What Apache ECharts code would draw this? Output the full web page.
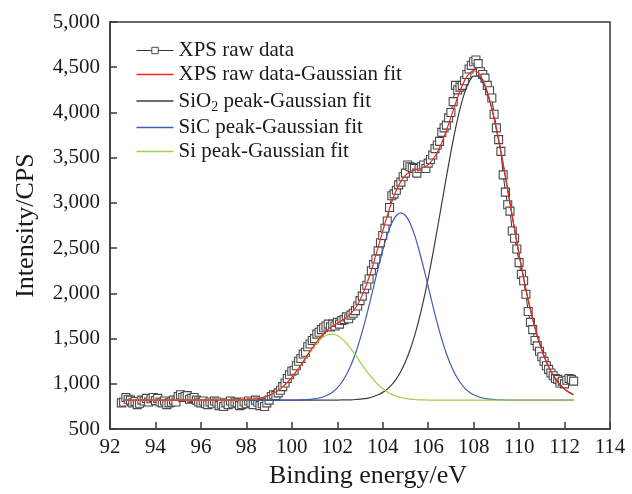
<!DOCTYPE html>
<html>
<head>
<meta charset="utf-8">
<script src="https://cdn.jsdelivr.net/npm/echarts@6/dist/echarts.min.js"></script>
<style>
html,body{margin:0;padding:0;background:#fff;}
#chart{width:632px;height:494px;}
</style>
</head>
<body>
<div id="chart"></div>
<script>
// ---- data ----
const xTicks = [92, 94, 96, 98, 100, 102, 104, 106, 108, 110, 112, 114];
const yTicks = [500, 1000, 1500, 2000, 2500, 3000, 3500, 4000, 4500, 5000];

const seriesNames = [
  'XPS raw data',
  'XPS raw data-Gaussian fit',
  'SiO2 peak-Gaussian fit',
  'SiC peak-Gaussian fit',
  'Si peak-Gaussian fit'
];

// raw XPS data: binding energy (eV)
const rawEnergy = [
  92.5,92.6,92.7,92.8,92.9,93.0,93.1,93.2,93.3,93.4,
  93.5,93.6,93.7,93.8,93.9,94.0,94.1,94.2,94.3,94.4,
  94.5,94.6,94.7,94.8,94.9,95.0,95.1,95.2,95.3,95.4,
  95.5,95.6,95.7,95.8,95.9,96.0,96.1,96.2,96.3,96.4,
  96.5,96.6,96.7,96.8,96.9,97.0,97.1,97.2,97.3,97.4,
  97.5,97.6,97.7,97.8,97.9,98.0,98.1,98.2,98.3,98.4,
  98.5,98.6,98.7,98.8,98.9,99.0,99.1,99.2,99.3,99.4,
  99.5,99.6,99.7,99.8,99.9,100.0,100.1,100.2,100.3,100.4,
  100.5,100.6,100.7,100.8,100.9,101.0,101.1,101.2,101.3,101.4,
  101.5,101.6,101.7,101.8,101.9,102.0,102.1,102.2,102.3,102.4,
  102.5,102.6,102.7,102.8,102.9,103.0,103.1,103.2,103.3,103.4,
  103.5,103.6,103.7,103.8,103.9,104.0,104.1,104.2,104.3,104.4,
  104.5,104.6,104.7,104.8,104.9,105.0,105.1,105.2,105.3,105.4,
  105.5,105.6,105.7,105.8,105.9,106.0,106.1,106.2,106.3,106.4,
  106.5,106.6,106.7,106.8,106.9,107.0,107.1,107.2,107.3,107.4,
  107.5,107.6,107.7,107.8,107.9,108.0,108.1,108.2,108.3,108.4,
  108.5,108.6,108.7,108.8,108.9,109.0,109.1,109.2,109.3,109.4,
  109.5,109.6,109.7,109.8,109.9,110.0,110.1,110.2,110.3,110.4,
  110.5,110.6,110.7,110.8,110.9,111.0,111.1,111.2,111.3,111.4,
  111.5,111.6,111.7,111.8,111.9,112.0,112.1,112.2,112.3,112.4
];
// raw XPS data: intensity (CPS)
const rawIntensity = [
  790,800,850,830,820,790,805,770,785,820,
  810,840,800,835,850,815,840,800,790,810,
  770,790,800,820,800,860,880,850,860,870,
  830,840,850,820,800,790,810,780,770,800,
  780,810,800,760,775,750,790,770,810,780,
  800,790,760,770,800,780,810,790,770,820,
  800,760,780,750,790,820,860,880,870,900,
  930,970,1010,1060,1100,1140,1150,1200,1250,1280,
  1330,1350,1410,1440,1480,1500,1550,1570,1600,1620,
  1640,1660,1630,1660,1640,1680,1660,1700,1710,1740,
  1720,1760,1780,1810,1860,1920,1970,2050,2090,2160,
  2250,2320,2380,2470,2560,2640,2720,2800,2950,3080,
  3100,3140,3200,3230,3290,3330,3420,3400,3390,3380,
  3330,3380,3400,3420,3380,3440,3480,3530,3600,3640,
  3680,3780,3830,3860,3940,4000,4120,4300,4250,4280,
  4300,4350,4420,4480,4520,4560,4580,4540,4450,4420,
  4380,4300,4240,4160,3980,3830,3700,3570,3310,3120,
  2980,2910,2690,2610,2490,2340,2210,2140,1990,1800,
  1680,1600,1480,1420,1360,1300,1250,1200,1160,1120,
  1090,1060,1050,1010,1030,1000,1040,1060,1050,1030
];

// fitted curves: binding energy (eV)
const fitEnergy = [
  92.6,92.8,93.0,93.2,93.4,93.6,93.8,94.0,94.2,94.4,
  94.6,94.8,95.0,95.2,95.4,95.6,95.8,96.0,96.2,96.4,
  96.6,96.8,97.0,97.2,97.4,97.6,97.8,98.0,98.2,98.4,
  98.6,98.8,99.0,99.2,99.4,99.6,99.8,100.0,100.2,100.4,
  100.6,100.8,101.0,101.2,101.4,101.6,101.8,102.0,102.2,102.4,
  102.6,102.8,103.0,103.2,103.4,103.6,103.8,104.0,104.2,104.4,
  104.6,104.8,105.0,105.2,105.4,105.6,105.8,106.0,106.2,106.4,
  106.6,106.8,107.0,107.2,107.4,107.6,107.8,108.0,108.2,108.4,
  108.6,108.8,109.0,109.2,109.4,109.6,109.8,110.0,110.2,110.4,
  110.6,110.8,111.0,111.2,111.4,111.6,111.8,112.0,112.2,112.4
];
const fitTotal = [
  820,820,820,820,820,820,820,820,820,820,
  820,820,820,820,820,820,820,820,820,820,
  820,820,820,820,821,822,823,826,829,835,
  843,856,873,896,927,967,1015,1073,1138,1211,
  1286,1362,1435,1501,1557,1603,1640,1671,1700,1733,
  1778,1841,1927,2040,2178,2338,2512,2689,2860,3013,
  3141,3238,3304,3344,3364,3376,3394,3423,3478,3560,
  3669,3802,3949,4099,4237,4352,4430,4461,4439,4362,
  4230,4047,3824,3566,3287,2998,2709,2429,2167,1928,
  1715,1530,1374,1244,1139,1056,991,942,906,879
];
const fitSiO2 = [
  820,820,820,820,820,820,820,820,820,820,
  820,820,820,820,820,820,820,820,820,820,
  820,820,820,820,820,820,820,820,820,820,
  820,820,820,820,820,820,820,820,820,820,
  820,820,820,820,820,820,820,821,822,823,
  824,827,831,837,846,860,879,906,942,991,
  1056,1139,1244,1374,1530,1715,1928,2167,2429,2709,
  2997,3286,3563,3819,4039,4216,4339,4402,4402,4339,
  4216,4039,3819,3563,3286,2997,2709,2429,2167,1928,
  1715,1530,1374,1244,1139,1056,991,942,906,879
];
const fitSiC = [
  820,820,820,820,820,820,820,820,820,820,
  820,820,820,820,820,820,820,820,820,820,
  820,820,820,820,820,820,820,820,820,820,
  820,820,820,820,820,820,820,821,821,823,
  825,828,834,844,857,879,911,956,1018,1100,
  1206,1336,1492,1671,1868,2075,2283,2477,2647,2778,
  2861,2890,2861,2778,2647,2477,2283,2075,1868,1671,
  1492,1336,1206,1100,1018,956,911,879,857,844,
  834,828,825,823,821,821,820,820,820,820,
  820,820,820,820,820,820,820,820,820,820
];
const fitSi = [
  820,820,820,820,820,820,820,820,820,820,
  820,820,820,820,820,820,820,820,820,820,
  820,820,820,820,821,822,823,826,829,835,
  843,856,873,896,927,967,1015,1072,1137,1208,
  1281,1354,1421,1477,1520,1544,1549,1534,1500,1450,
  1388,1318,1244,1172,1104,1043,990,946,911,884,
  864,849,839,832,827,824,823,821,821,820,
  820,820,820,820,820,820,820,820,820,820,
  820,820,820,820,820,820,820,820,820,820,
  820,820,820,820,820,820,820,820,820,820
];

// ---- build chart ----
const pairs = (xs, ys) => xs.map((x, i) => [x, ys[i]]);
const FONT = '"Liberation Serif", "Times New Roman", serif';
const TXT = '#1a1a1a';
const AX = '#3a3a3a';
const LINE_ICON = 'path://M0 0H40V1.4H0Z';

const chart = echarts.init(document.getElementById('chart'), null, {renderer: 'canvas'});

function fitSeries(name, ys, color, z) {
  return {
    name: name, type: 'line', data: pairs(fitEnergy, ys),
    showSymbol: false, symbol: 'none', smooth: 0.3,
    lineStyle: {color: color, width: 1.2},
    itemStyle: {color: color},
    z: z, animation: false
  };
}

const option = {
  animation: false,
  backgroundColor: '#fff',
  grid: {left: 110, right: 22, top: 22, bottom: 64, show: true, borderColor: AX, borderWidth: 1.5, backgroundColor: 'transparent'},
  legend: {
    orient: 'vertical', left: 131, top: 35,
    itemWidth: 37, itemHeight: 8, itemGap: 3,
    data: [
      {name: seriesNames[0], itemStyle: {borderWidth: 1}, lineStyle: {width: 1}},
      {name: seriesNames[1], icon: LINE_ICON},
      {name: seriesNames[2], icon: LINE_ICON},
      {name: seriesNames[3], icon: LINE_ICON},
      {name: seriesNames[4], icon: LINE_ICON}
    ],
    textStyle: {
      fontFamily: FONT, fontSize: 21, color: TXT, lineHeight: 21,
      rich: {
        n: {fontFamily: FONT, fontSize: 21, color: TXT, lineHeight: 21},
        s: {fontFamily: FONT, fontSize: 14, color: TXT, lineHeight: 14, padding: [12, 0, 0, 0]}
      }
    },
    formatter: function (name) {
      if (name === 'SiO2 peak-Gaussian fit') return '{n|SiO}{s|2}{n| peak-Gaussian fit}';
      return name;
    }
  },
  xAxis: {
    type: 'value', min: xTicks[0], max: xTicks[xTicks.length - 1], interval: xTicks[1] - xTicks[0],
    axisLine: {show: true, lineStyle: {color: AX, width: 1.5}},
    axisTick: {show: true, inside: true, length: 7, lineStyle: {color: AX, width: 1.5}},
    axisLabel: {fontFamily: FONT, fontSize: 21, color: TXT, margin: 8},
    splitLine: {show: false},
    name: 'Binding energy/eV', nameLocation: 'middle', nameGap: 30,
    nameTextStyle: {fontFamily: FONT, fontSize: 26, color: TXT, padding: [0, 0, 0, 16]}
  },
  yAxis: {
    type: 'value', min: yTicks[0], max: yTicks[yTicks.length - 1], interval: yTicks[1] - yTicks[0],
    axisLine: {show: true, lineStyle: {color: AX, width: 1.5}},
    axisTick: {show: true, inside: true, length: 7, lineStyle: {color: AX, width: 1.5}},
    axisLabel: {fontFamily: FONT, fontSize: 21, color: TXT, margin: 10,
      formatter: v => v.toLocaleString('en-US')},
    splitLine: {show: false},
    name: 'Intensity/CPS', nameLocation: 'middle', nameGap: 71,
    nameTextStyle: {fontFamily: FONT, fontSize: 26, color: TXT}
  },
  series: [
    {
      name: seriesNames[0], type: 'line', data: pairs(rawEnergy, rawIntensity),
      symbol: 'rect', symbolSize: 8, showSymbol: true,
      lineStyle: {color: '#333', width: 1},
      itemStyle: {color: '#fff', borderColor: '#4a4a4a', borderWidth: 1.1},
      z: 1, animation: false
    },
    fitSeries(seriesNames[2], fitSiO2, '#3c3c3c', 3),
    fitSeries(seriesNames[3], fitSiC, '#3f5bb5', 3),
    fitSeries(seriesNames[4], fitSi, '#9fd04a', 3),
    fitSeries(seriesNames[1], fitTotal, '#ee2a24', 4)
  ]
};
chart.setOption(option);
</script>
</body>
</html>
